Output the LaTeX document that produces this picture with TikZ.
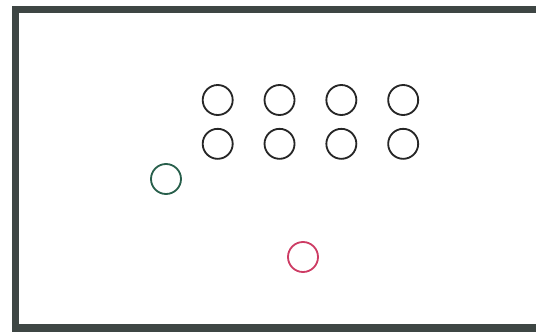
\documentclass[tikz,border=0pt]{standalone}
\usepackage{tikz}
\usetikzlibrary{positioning}

\definecolor{framegray}{RGB}{62,70,68}
\definecolor{seatgreen}{RGB}{40,95,75}
\definecolor{seatpink}{RGB}{205,60,100}

\begin{document}
\begin{tikzpicture}[
  x=0.5mm, y=-0.5mm,
  node distance=15mm,
  every node/.style={draw, circle, line width=2.6pt, minimum size=15mm, inner sep=0pt},
  seat/.style={draw=black!85},
  wall/.style={line width=10pt, draw=framegray}
]

\useasboundingbox (0,0) rectangle (536,332);

% frame
\draw[wall] (540,9.5) -- (15.5,9.5) -- (15.5,328) -- (540,328);

% rows of seats
\node[seat] (a1) at (217.7,100) {};
\node[seat] (a2) [right=of a1] {};
\node[seat] (a3) [right=of a2] {};
\node[seat] (a4) [right=of a3] {};
\node[seat] (b1) [below=6mm of a1] {};
\node[seat] (b2) [below=6mm of a2] {};
\node[seat] (b3) [below=6mm of a3] {};
\node[seat] (b4) [below=6mm of a4] {};

% single seats
\node[draw=seatgreen] (green) at (166,179) {};
\node[draw=seatpink] (pink) at (303,257) {};

\end{tikzpicture}
\end{document}
